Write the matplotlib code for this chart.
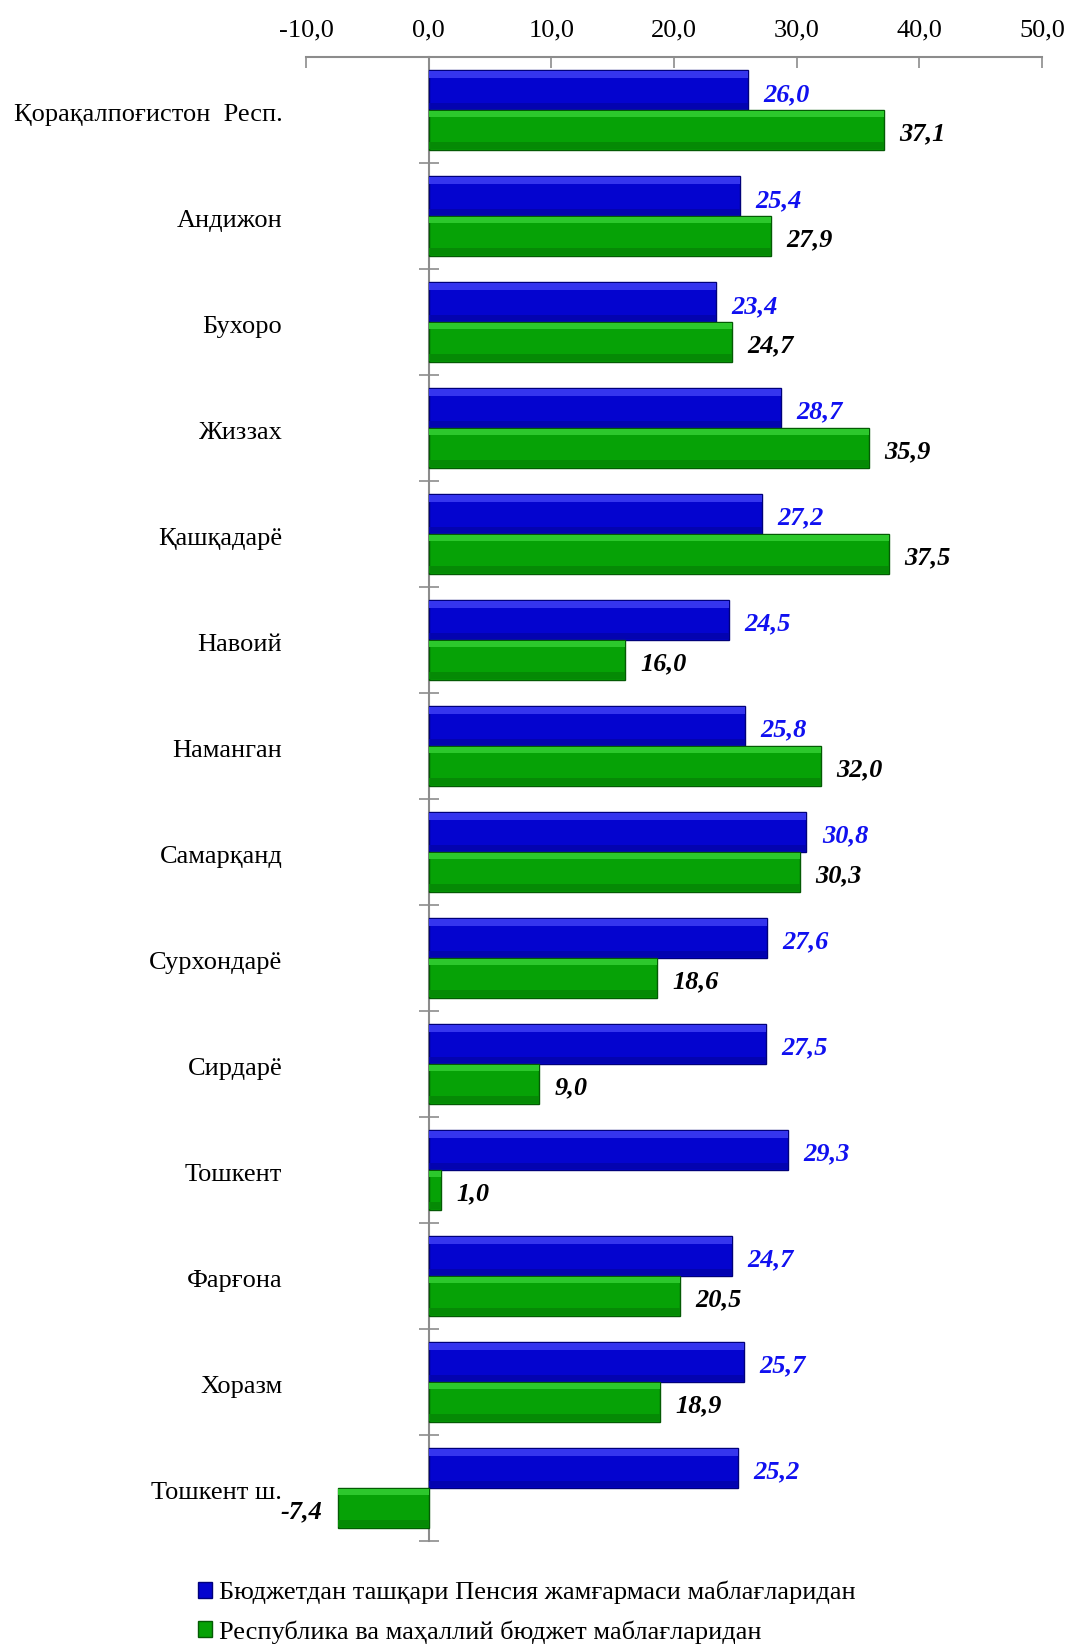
import matplotlib
matplotlib.use("Agg")
import matplotlib.pyplot as plt
import matplotlib.transforms as mtransforms
import numpy as np

categories = ["Қорақалпоғистон  Респ.", "Андижон", "Бухоро", "Жиззах", "Қашқадарё",
              "Навоий", "Наманган", "Самарқанд", "Сурхондарё", "Сирдарё", "Тошкент",
              "Фарғона", "Хоразм", "Тошкент ш."]
pension = [26.0, 25.4, 23.4, 28.7, 27.2, 24.5, 25.8, 30.8, 27.6, 27.5, 29.3, 24.7, 25.7, 25.2]
budget = [37.1, 27.9, 24.7, 35.9, 37.5, 16.0, 32.0, 30.3, 18.6, 9.0, 1.0, 20.5, 18.9, -7.4]
series_names = ["Бюджетдан ташқари Пенсия жамғармаси маблағларидан",
                "Республика ва маҳаллий бюджет маблағларидан"]
xticks = [-10, 0, 10, 20, 30, 40, 50]
xtick_labels = ["-10,0", "0,0", "10,0", "20,0", "30,0", "40,0", "50,0"]

plt.rcParams['font.family'] = ['Liberation Serif', 'DejaVu Serif']
FS = 19

fig = plt.figure(figsize=(10.72, 16.44), dpi=100)
ax = fig.add_axes([0.2854, 0.0627, 0.972 - 0.2854, 0.9653 - 0.0627])

n = len(categories)
y = np.arange(n)
h = 0.375
blue = '#0404CF'
green = '#06A206'
ax.barh(y - h / 2, pension, height=h, color=blue, edgecolor='#00007A', linewidth=1.0, zorder=3)
ax.barh(y + h / 2, budget, height=h, color=green, edgecolor='#045A04', linewidth=1.0, zorder=3)

# bevel effect: lighter top band, darker bottom band
bt = 0.16 * h
ax.barh(y - h + bt / 2 + 0.01, pension, height=bt, color='#3535EE', linewidth=0, zorder=4)
ax.barh(y + bt / 2 + 0.01, budget, height=bt, color='#2CC82C', linewidth=0, zorder=4)
ax.barh(y - bt / 2 - 0.01, pension, height=bt, color='#0303B0', linewidth=0, zorder=4)
ax.barh(y + h - bt / 2 - 0.01, budget, height=bt, color='#058A05', linewidth=0, zorder=4)

fmt = lambda v: f"{v:.1f}".replace('.', ',')
for yi, v in zip(y, pension):
    ax.annotate(fmt(v), (v, yi - h / 2), xytext=(11, -3), textcoords='offset points',
                ha='left', va='center', fontsize=FS, fontweight='bold', fontstyle='italic',
                color='#1010F0')
for yi, v in zip(y, budget):
    off = 11 if v >= 0 else -11
    ax.annotate(fmt(v), (v, yi + h / 2), xytext=(off, -3), textcoords='offset points',
                ha='left' if v >= 0 else 'right', va='center', fontsize=FS,
                fontweight='bold', fontstyle='italic', color='black')

ax.set_xlim(-10, 50)
ax.set_ylim(n - 0.5, -0.5)
ax.xaxis.tick_top()
ax.set_xticks(xticks)
ax.set_xticklabels(xtick_labels, fontsize=FS)
ax.tick_params(axis='x', direction='in', length=8, width=1.2, color='#8C8C8C', pad=11)
for s in ['left', 'right', 'bottom']:
    ax.spines[s].set_visible(False)
ax.spines['top'].set_color('#8C8C8C')
ax.spines['top'].set_linewidth(1.5)

ax.set_yticks(y)
ax.set_yticklabels(categories, fontsize=FS)
ax.tick_params(axis='y', length=0, pad=17)
shift = mtransforms.ScaledTranslation(0, -2 / 72, fig.dpi_scale_trans)
for lbl in ax.get_yticklabels():
    lbl.set_transform(lbl.get_transform() + shift)

# zero category axis with boundary ticks
sec = ax.secondary_yaxis(1 / 6)
sec.set_yticks(np.arange(n + 1) - 0.5)
sec.set_yticklabels([])
sec.tick_params(axis='y', direction='inout', length=14, width=1.2, color='#8C8C8C')
sec.spines['left'].set_color('#8C8C8C')
sec.spines['left'].set_linewidth(1.5)

handles = [plt.Rectangle((0, 0), 1, 1, color=blue, ec='#00007A'),
           plt.Rectangle((0, 0), 1, 1, color=green, ec='#045A04')]
fig.legend(handles, series_names, loc='upper left', bbox_to_anchor=(0.172, 0.0465),
           frameon=False, fontsize=FS, handlelength=0.55, handleheight=0.55,
           handletextpad=0.25, labelspacing=0.6, borderpad=0)

fig.savefig('out.png', dpi=100)
